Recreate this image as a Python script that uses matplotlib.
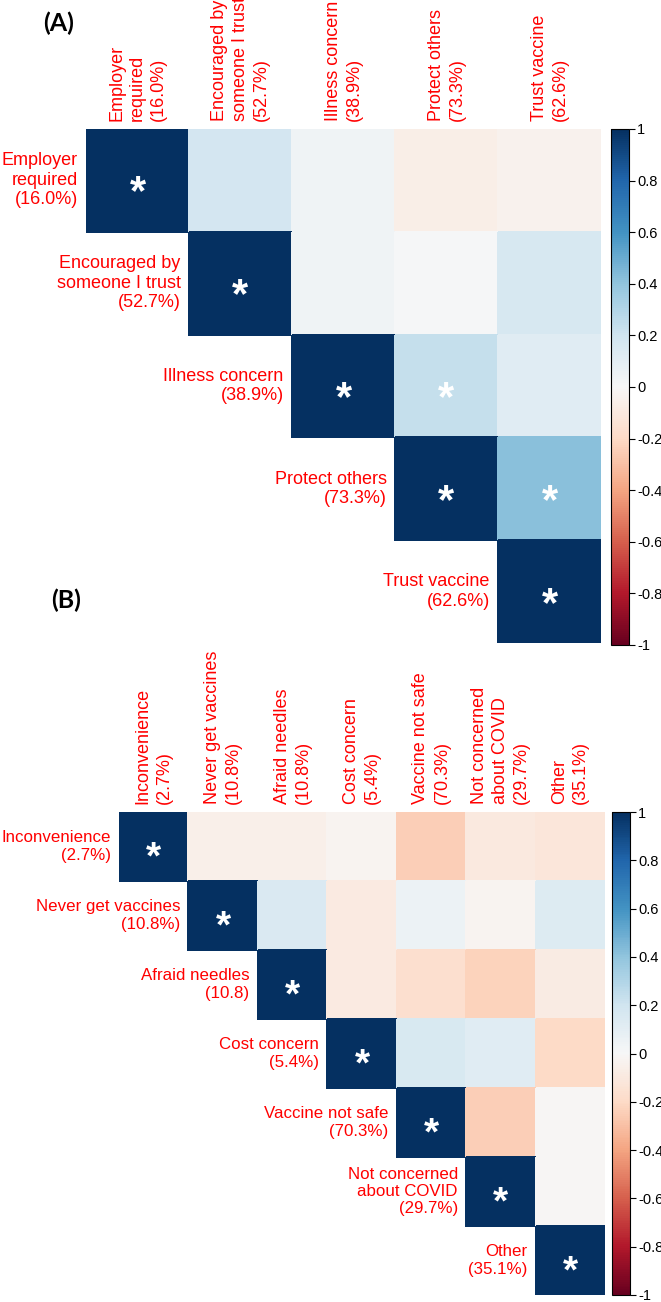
#Correlation plots of vaccine reasons, panel A and B
import numpy as np
import matplotlib.pyplot as plt

#Panel A: reasons to get vaccinated
rows_a = ["Employer\nrequired\n(16.0%)", "Encouraged by\nsomeone I trust\n(52.7%)",
          "Illness concern\n(38.9%)", "Protect others\n(73.3%)", "Trust vaccine\n(62.6%)"]
cols_a = ["Employer\nrequired\n(16.0%)", "Encouraged by\nsomeone I trust\n(52.7%)",
          "Illness concern\n(38.9%)", "Protect others\n(73.3%)", "Trust vaccine\n(62.6%)"]
#upper triangle, row by row (diagonal left out)
upper_a = [
    [0.18, 0.04, -0.07, -0.04],
    [0.04, 0.01, 0.17],
    [0.24, 0.12],
    [0.42],
]
sig_a = [(2, 3), (3, 4)]

#Panel B: reasons not to get vaccinated
rows_b = ["Inconvenience\n(2.7%)", "Never get vaccines\n(10.8%)", "Afraid needles\n(10.8)",
          "Cost concern\n(5.4%)", "Vaccine not safe\n(70.3%)", "Not concerned\nabout COVID\n(29.7%)",
          "Other\n(35.1%)"]
cols_b = ["Inconvenience\n(2.7%)", "Never get vaccines\n(10.8%)", "Afraid needles\n(10.8%)",
          "Cost concern\n(5.4%)", "Vaccine not safe\n(70.3%)", "Not concerned\nabout COVID\n(29.7%)",
          "Other\n(35.1%)"]
upper_b = [
    [-0.06, -0.06, -0.03, -0.25, -0.10, -0.12],
    [0.15, -0.09, 0.06, -0.03, 0.14],
    [-0.09, -0.17, -0.23, -0.08],
    [0.16, 0.12, -0.20],
    [-0.25, -0.01],
    [-0.01],
]
sig_b = []

cbar_ticks = [1, 0.8, 0.6, 0.4, 0.2, 0, -0.2, -0.4, -0.6, -0.8, -1]

FONT = "Liberation Sans"
W, H = 661, 1302


def build_matrix(upper):
    n = len(upper) + 1
    m = np.full((n, n), np.nan)
    for i in range(n):
        m[i, i] = 1.0
        for k, v in enumerate(upper[i] if i < n - 1 else []):
            m[i, i + 1 + k] = v
    return m


def px_rect(x0, y0, x1, y1):
    #pixel box (top-down) -> figure fraction
    return [x0 / W, 1 - y1 / H, (x1 - x0) / W, (y1 - y0) / H]


def draw_corr(fig, grid_box, cbar_box, rows, cols, upper, sig, row_fs, col_fs, star_fs):
    m = build_matrix(upper)
    n = m.shape[0]
    ax = fig.add_axes(px_rect(*grid_box))
    mesh = ax.pcolormesh(np.arange(n + 1), np.arange(n + 1), np.ma.masked_invalid(m),
                         cmap="RdBu", vmin=-1, vmax=1, edgecolors="face", linewidth=0.3)
    ax.set_xlim(0, n)
    ax.set_ylim(n, 0)
    ax.axis("off")

    for j, lab in enumerate(cols):
        ax.annotate(lab, xy=(j + 0.5, 0), xytext=(0, 6), textcoords="offset points",
                    rotation=90, ha="center", va="bottom", multialignment="left",
                    color="red", fontsize=col_fs, family=FONT, linespacing=1.3,
                    annotation_clip=False)
    for i, lab in enumerate(rows):
        ax.annotate(lab, xy=(i, i + 0.5), xytext=(-6, 0), textcoords="offset points",
                    ha="right", va="center", multialignment="right",
                    color="red", fontsize=row_fs, family=FONT, linespacing=1.2,
                    annotation_clip=False)

    stars = [(i, i) for i in range(n)] + list(sig)
    for i, j in stars:
        ax.annotate("*", xy=(j + 0.5, i + 0.5), xytext=(0, -0.56 * star_fs - 0.5),
                    textcoords="offset points", ha="center", va="baseline",
                    color="white", fontsize=star_fs, fontweight="bold", family=FONT)

    cax = fig.add_axes(px_rect(*cbar_box))
    cb = fig.colorbar(mesh, cax=cax, ticks=cbar_ticks)
    cb.ax.set_yticklabels([f"{t:g}" for t in cbar_ticks], family=FONT, fontsize=10.5)
    cb.outline.set_linewidth(0.8)
    cb.ax.tick_params(length=4, width=0.8, pad=2)
    return ax


fig = plt.figure(figsize=(W / 100, H / 100), dpi=100)

draw_corr(fig, (86, 129, 601, 643), (611, 129, 629, 645), rows_a, cols_a, upper_a, sig_a,
          row_fs=13, col_fs=13, star_fs=30)
draw_corr(fig, (119, 812, 605, 1295), (612, 812, 630, 1295), rows_b, cols_b, upper_b, sig_b,
          row_fs=12.2, col_fs=13, star_fs=28)

fig.text(59 / W, 1 - 23 / H, "(A)", ha="center", va="center", fontsize=18,
         fontweight="bold", family="Lato")
fig.text(66 / W, 1 - 600 / H, "(B)", ha="center", va="center", fontsize=18,
         fontweight="bold", family="Lato")

fig.savefig("out.png", dpi=100)
